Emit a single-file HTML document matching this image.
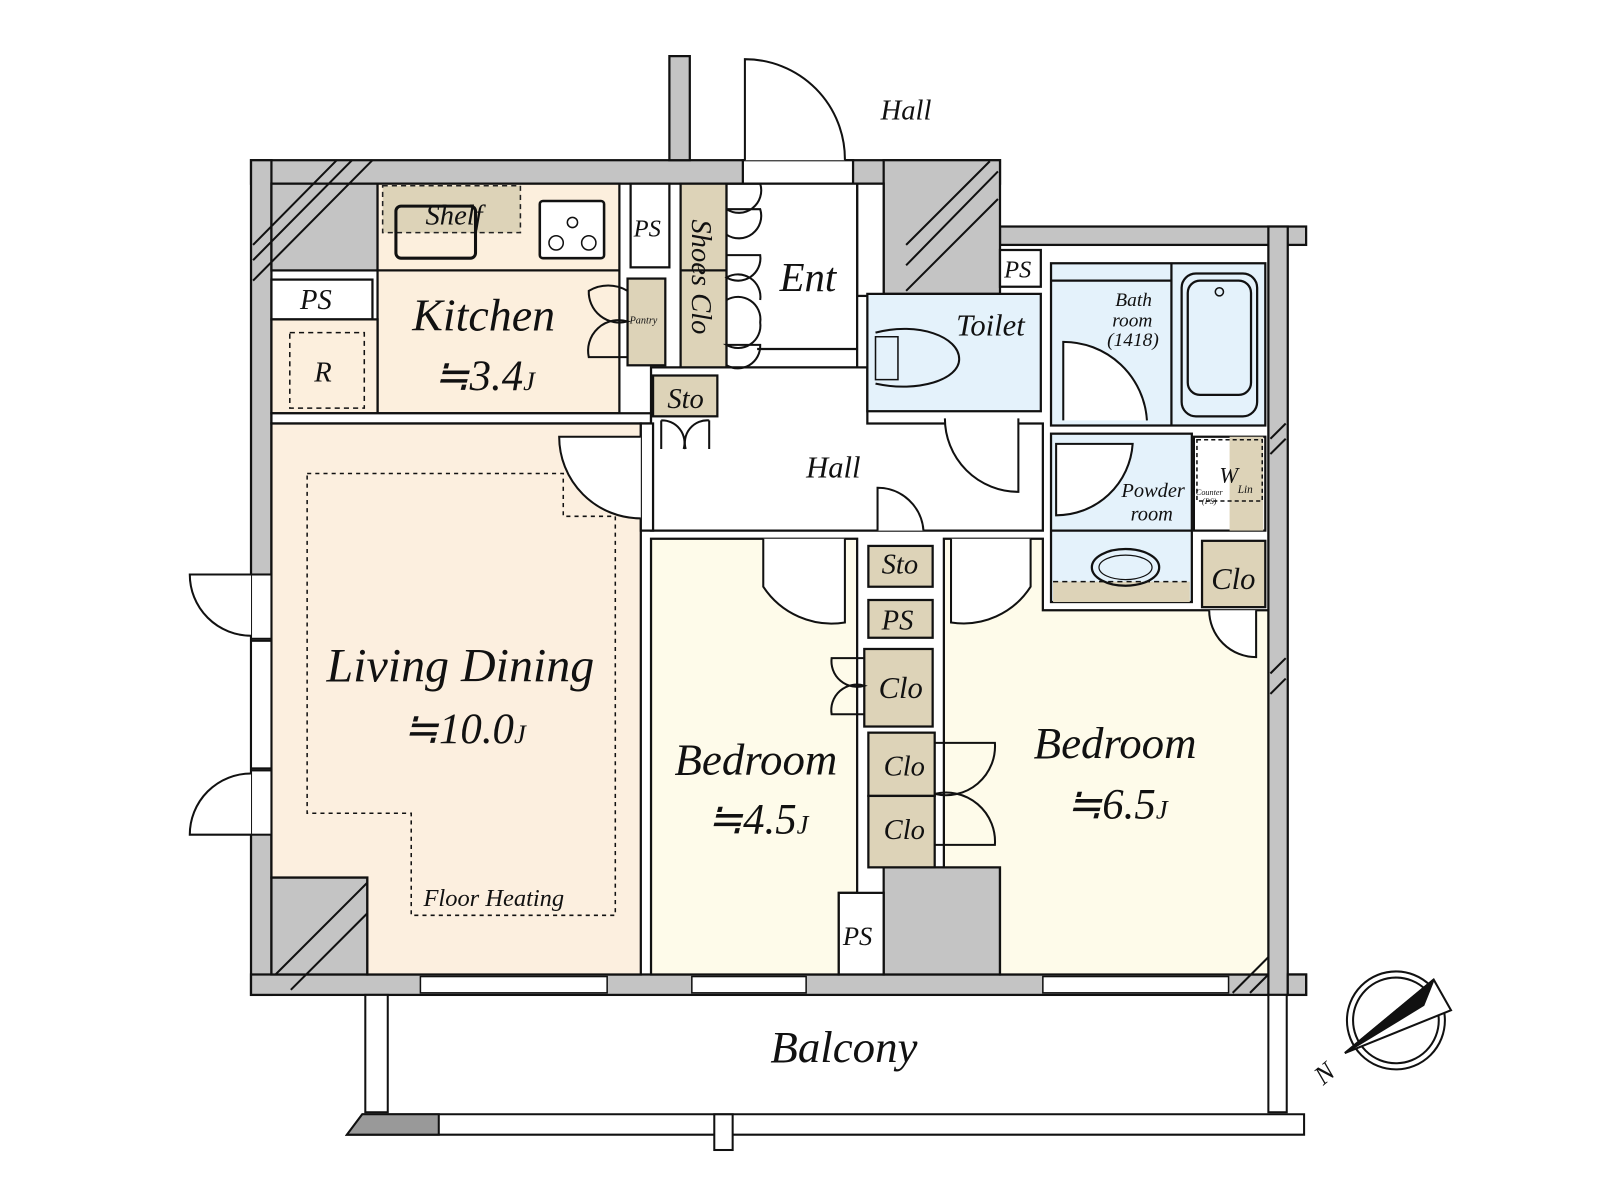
<!DOCTYPE html>
<html><head><meta charset="utf-8"><style>
html,body{margin:0;padding:0;background:#fff;width:1600px;height:1200px;overflow:hidden}
svg{display:block}
text{font-family:"Liberation Serif",serif;font-style:italic;fill:#111}
</style></head><body>
<svg width="1600" height="1200" viewBox="0 0 1568 1176" xmlns="http://www.w3.org/2000/svg">
<g stroke="#111" stroke-width="2.2">
<!-- walls -->
<g fill="#c4c4c4">
<rect x="246" y="157" width="734" height="23"/>
<rect x="656" y="55" width="20" height="102"/>
<rect x="246" y="157" width="20" height="818"/>
<rect x="246" y="955" width="1034" height="20"/>
<rect x="980" y="222" width="300" height="18"/>
<rect x="1243" y="222" width="19" height="753"/>
<rect x="1262" y="955" width="18" height="20"/>
<rect x="866" y="157" width="114" height="131"/>
<rect x="266" y="180" width="104" height="85"/>
<rect x="266" y="860" width="94" height="95"/>
<rect x="866" y="850" width="114" height="105"/>
</g>
<rect x="728" y="157" width="108" height="23" fill="#fff"/>
<rect x="840" y="180" width="26" height="110" fill="#fff"/>
<!-- kitchen -->
<rect x="370" y="180" width="237" height="225" fill="#fcefdd"/>
<line x1="370" y1="265" x2="607" y2="265"/>
<rect x="266" y="274" width="99" height="39" fill="#fff"/>
<rect x="266" y="313" width="104" height="92" fill="#fcefdd"/>
<rect x="375" y="182" width="135" height="46" fill="#ddd3b8" stroke="#222" stroke-dasharray="5 4" stroke-width="1.5"/>
<rect x="388" y="202" width="78" height="51" rx="5" fill="none" stroke-width="3"/>
<rect x="529" y="197" width="63" height="56" rx="3" fill="#fff" stroke-width="2.5"/>
<circle cx="561" cy="218" r="5" fill="none" stroke-width="1.5"/><circle cx="545" cy="238" r="7" fill="none" stroke-width="1.5"/><circle cx="577" cy="238" r="7" fill="none" stroke-width="1.5"/>
<rect x="284" y="326" width="73" height="74" fill="none" stroke-dasharray="5 4" stroke-width="1.5"/>
<rect x="266" y="405" width="372" height="10" fill="#fff"/>
<!-- living -->
<path d="M266 415 H628 V955 H360 V860 H266 Z" fill="#fcefdf"/>
<path d="M301 464 H552 V506 H603 V897 H403 V797 H301 Z" fill="none" stroke-dasharray="4 4" stroke-width="1.5"/>
<!-- hall -->
<path d="M638 360 H850 V415 H1022 V520 H638 Z" fill="#fff"/>
<rect x="628" y="415" width="12" height="105" fill="#fff"/>
<!-- small closets left of Ent -->
<rect x="618" y="180" width="38" height="82" fill="#fff"/>
<rect x="615" y="273" width="37" height="85" fill="#ddd3b8"/>
<rect x="667" y="180" width="45" height="180" fill="#ddd3b8"/>
<line x1="667" y1="265" x2="712" y2="265"/>
<rect x="640" y="368" width="63" height="40" fill="#ddd3b8"/>
<!-- Ent -->
<rect x="712" y="180" width="128" height="180" fill="#fff"/>
<line x1="742" y1="342" x2="840" y2="342"/>
<!-- toilet -->
<rect x="850" y="288" width="170" height="115" fill="#e4f2fb"/>
<rect x="980" y="245" width="40" height="36" fill="#fff"/>
<path d="M858 330 H880 V372 H858 Z" fill="none" stroke-width="1.5"/>
<path d="M858 326 C900 315 940 330 940 352 C940 372 900 385 858 376" fill="none" stroke-width="2"/>
<!-- bath -->
<rect x="1030" y="258" width="210" height="159" fill="#e4f2fb"/>
<line x1="1148" y1="258" x2="1148" y2="417"/>
<line x1="1030" y1="275" x2="1148" y2="275"/>
<rect x="1158" y="268" width="74" height="140" rx="14" fill="none"/>
<rect x="1164" y="275" width="62" height="112" rx="12" fill="none"/>
<circle cx="1195" cy="286" r="4" fill="none" stroke-width="1.5"/>
<!-- powder -->
<rect x="1030" y="425" width="138" height="165" fill="#e4f2fb"/>
<line x1="1030" y1="520" x2="1168" y2="520"/>
<rect x="1032" y="570" width="134" height="20" fill="#ddd3b8" stroke="none"/>
<line x1="1032" y1="570" x2="1166" y2="570" stroke-dasharray="5 4" stroke-width="1.5"/>
<ellipse cx="1103" cy="556" rx="33" ry="18" fill="none"/><ellipse cx="1103" cy="556" rx="26" ry="12" fill="none" stroke-width="1.2"/>
<rect x="1170" y="428" width="70" height="92" fill="#fff"/>
<rect x="1205" y="428" width="33" height="92" fill="#ddd3b8" stroke="none"/>
<rect x="1173" y="431" width="64" height="60" fill="none" stroke-dasharray="4 3" stroke-width="1.5"/>
<rect x="1178" y="530" width="62" height="65" fill="#ddd3b8"/>
<!-- bedrooms -->
<path d="M638 528 H840 V875 H822 V955 H638 Z" fill="#fefbea"/>
<rect x="822" y="875" width="44" height="80" fill="#fff"/>
<path d="M925 528 H1022 V598 H1243 V955 H980 V850 H925 Z" fill="#fefbea"/>
<rect x="851" y="535" width="63" height="40" fill="#ddd3b8"/>
<rect x="851" y="588" width="63" height="37" fill="#ddd3b8"/>
<rect x="847" y="636" width="67" height="76" fill="#ddd3b8"/>
<rect x="851" y="718" width="65" height="62" fill="#ddd3b8"/>
<rect x="851" y="780" width="65" height="70" fill="#ddd3b8"/>
<!-- doors -->
<g fill="#fff" stroke-width="2">
<path d="M730 157 V58 A98 98 0 0 1 828 157"/>
<path d="M628 428 H548 A80 80 0 0 0 628 508"/>
<path d="M748 528 V575 A80 80 0 0 0 828 610 V528"/>
<path d="M1010 528 V575 A78 78 0 0 1 932 610 V528"/>
<path d="M860 520 V478 A45 45 0 0 1 905 520"/>
<path d="M926 410 A72 72 0 0 0 998 482 V410"/>
<path d="M1035 505 V435 H1110 A75 75 0 0 1 1035 505 Z"/>
<path d="M1042 412 V335 A82 82 0 0 1 1124 412"/>
<path d="M1185 598 A46 46 0 0 0 1231 644 V598"/>
</g>
<g fill="none" stroke-width="2">
<path d="M712 180 H745 A22 22 0 0 1 712 205 M712 205 H745 A22 22 0 0 1 712 230"/>
<path d="M712 250 H745 A22 22 0 0 1 712 272 A22 22 0 0 1 745 294 M712 294 A22 22 0 0 1 745 316 A22 22 0 0 1 712 338 H745 A22 22 0 0 1 712 358"/>
<path d="M615 285 A37 37 0 0 0 577 285 A30 30 0 0 0 615 315 A30 30 0 0 0 577 350 H615"/>
<path d="M648 412 V440 M695 412 V440 M648 412 A22 22 0 0 1 670 440 M695 412 A22 22 0 0 0 672 440"/>
<path d="M847 645 H815 A25 25 0 0 0 847 672 A25 25 0 0 0 815 700 H847"/>
<path d="M916 728 H975 A48 48 0 0 1 916 778 A48 48 0 0 1 975 828 H916"/>
</g>
<!-- side windows left -->
<g fill="#fff" stroke-width="2">
<rect x="246" y="563" width="20" height="63"/><rect x="246" y="628" width="20" height="125"/><rect x="246" y="755" width="20" height="63"/>
<path d="M246 563 H186 A60 60 0 0 0 246 623"/>
<path d="M246 818 H186 A60 60 0 0 1 246 758"/>
</g>
<g fill="#fff" stroke-width="1.5">
<rect x="412" y="957" width="183" height="16"/><rect x="678" y="957" width="112" height="16"/><rect x="1022" y="957" width="182" height="16"/>
</g>
<g stroke-width="2" fill="none">
<path d="M248 240 L330 157 M248 255 L345 157 M248 275 L365 157"/>
<path d="M888 240 L970 158 M888 260 L978 168 M888 285 L978 195"/>
<path d="M270 955 L360 865 M285 970 L360 895"/>
<path d="M1208 973 L1243 938 M1225 973 L1243 955"/>
<path d="M1245 430 L1260 415 M1245 445 L1260 430 M1245 660 L1260 645 M1245 680 L1260 665"/>
</g>
<g fill="#fff" stroke-width="2">
<rect x="358" y="975" width="22" height="115"/>
<rect x="1243" y="975" width="18" height="115"/>
<path d="M355 1092 H1278 V1112 H340 Z"/>
<path d="M355 1092 H430 V1112 H340 Z" fill="#999"/>
<rect x="700" y="1092" width="18" height="35"/>
</g>
</g>
<g stroke="#111" fill="none" stroke-width="2">
<circle cx="1368" cy="1000" r="48"/><circle cx="1368" cy="1000" r="42"/>
<path d="M1318 1032 L1405 960 L1422 990 Z" fill="#fff"/>
<path d="M1318 1032 L1405 960 L1395 985 Z" fill="#111"/>
</g>
<text x="1288" y="1060" font-size="26" transform="rotate(-40 1298 1050)">N</text>
<text x="863" y="117" font-size="28">Hall</text>
<text x="417" y="220" font-size="28">Shelf</text>
<text x="621" y="232" font-size="24">PS</text>
<text x="294" y="303" font-size="28">PS</text>
<text x="404" y="324" font-size="45">Kitchen</text>
<text x="425" y="382" font-size="42">≒3.4<tspan font-size="26">J</tspan></text>
<text x="308" y="374" font-size="28">R</text>
<text x="617" y="317" font-size="10">Pantry</text>
<text x="654" y="400" font-size="28">Sto</text>
<text x="764" y="285" font-size="40">Ent</text>
<text font-size="28" transform="translate(678 215) rotate(90)">Shoes Clo</text>
<text x="937" y="329" font-size="30">Toilet</text>
<text x="984" y="272" font-size="24">PS</text>
<text x="1093" y="300" font-size="19">Bath</text>
<text x="1090" y="320" font-size="19">room</text>
<text x="1085" y="339" font-size="19">(1418)</text>
<text x="790" y="468" font-size="30">Hall</text>
<text x="1099" y="487" font-size="20">Powder</text>
<text x="1108" y="510" font-size="20">room</text>
<text x="1195" y="473" font-size="22">W</text>
<text x="1172" y="485" font-size="8">Counter</text>
<text x="1178" y="494" font-size="8">(PS)</text>
<text x="1213" y="483" font-size="11">Lin</text>
<text x="1187" y="577" font-size="30">Clo</text>
<text x="864" y="562" font-size="28">Sto</text>
<text x="864" y="617" font-size="28">PS</text>
<text x="861" y="684" font-size="30">Clo</text>
<text x="866" y="760" font-size="28">Clo</text>
<text x="866" y="822" font-size="28">Clo</text>
<text x="826" y="926" font-size="26">PS</text>
<text x="320" y="668" font-size="47">Living Dining</text>
<text x="395" y="728" font-size="42">≒10.0<tspan font-size="26">J</tspan></text>
<text x="415" y="888" font-size="24">Floor Heating</text>
<text x="661" y="759" font-size="44">Bedroom</text>
<text x="693" y="817" font-size="42">≒4.5<tspan font-size="26">J</tspan></text>
<text x="1013" y="743" font-size="44">Bedroom</text>
<text x="1045" y="802" font-size="42">≒6.5<tspan font-size="26">J</tspan></text>
<text x="755" y="1041" font-size="44">Balcony</text>
</svg>
</body></html>
